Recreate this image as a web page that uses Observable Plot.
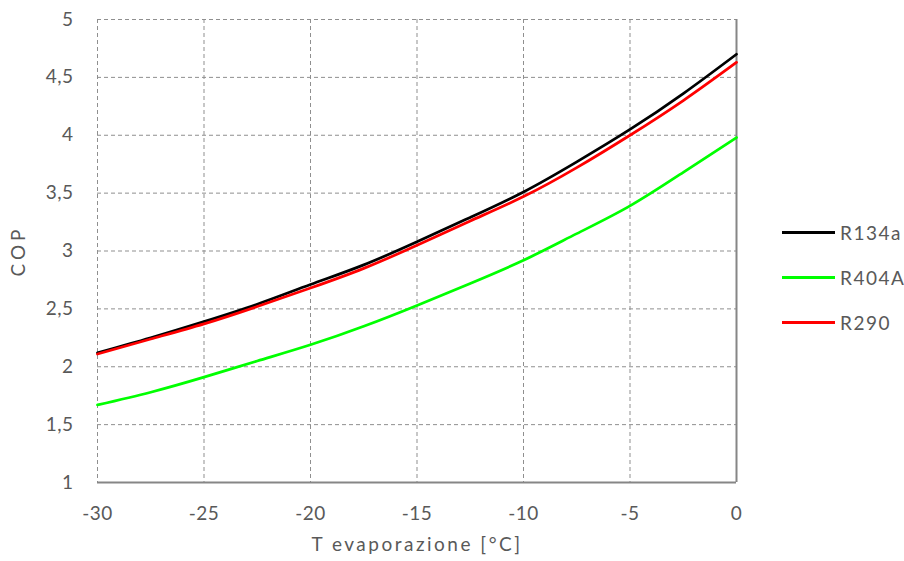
<!DOCTYPE html>
<html>
<head>
<meta charset="utf-8">
<script src="https://cdn.jsdelivr.net/npm/d3@7"></script>
<script src="https://cdn.jsdelivr.net/npm/@observablehq/plot@0.6"></script>
<style>
  html, body { margin: 0; padding: 0; background: #fff; }
  #wrap { position: relative; width: 904px; height: 561px; font-family: Lato, "Open Sans", sans-serif; }
  #legend { position: absolute; left: 782px; top: 210px; }
  .item { display: flex; align-items: center; height: 45px; }
  .swatch { width: 53px; height: 2.75px; margin-right: 5px; }
  .lbl { font-size: 19px; color: #595959; line-height: 1; letter-spacing: 1.5px; }
  svg [aria-label="x-axis label"] { letter-spacing: 2.5px; }
  svg [aria-label="y-axis label"] { letter-spacing: 4px; }
  svg [aria-label="x-axis tick label"], svg [aria-label="y-axis tick label"] { letter-spacing: 0.5px; }
</style>
</head>
<body>
<div id="wrap"><div id="legend"></div></div>
<script>
// Data
const temps = [-30, -27.5, -25, -22.5, -20, -17.5, -15, -12.5, -10, -7.5, -5, -2.5, 0];
const r134a = [2.12, 2.25, 2.39, 2.54, 2.71, 2.88, 3.08, 3.29, 3.51, 3.77, 4.05, 4.36, 4.70];
const r404a = [1.67, 1.78, 1.91, 2.05, 2.19, 2.35, 2.53, 2.72, 2.92, 3.15, 3.39, 3.68, 3.98];
const r290  = [2.11, 2.24, 2.37, 2.52, 2.68, 2.85, 3.05, 3.26, 3.47, 3.72, 4.00, 4.30, 4.63];
const seriesNames = ["R134a", "R404A", "R290"];
const seriesColors = ["#000000", "#00ff00", "#ff0000"];
const xTicks = [-30, -25, -20, -15, -10, -5, 0];
const yTicks = [1, 1.5, 2, 2.5, 3, 3.5, 4, 4.5, 5];

const seriesValues = [r134a, r404a, r290];
const rows = [];
seriesNames.forEach((name, i) => {
  temps.forEach((t, j) => rows.push({series: name, t, cop: seriesValues[i][j]}));
});

const gridStyle = {stroke: "#8f8f8f", strokeOpacity: 1, strokeWidth: 1, strokeDasharray: "4,3"};
const axisLine = {stroke: "#868686", strokeWidth: 2};

const chart = Plot.plot({
  width: 904,
  height: 561,
  marginLeft: 97,
  marginRight: 168,
  marginTop: 19,
  marginBottom: 79,
  style: {fontFamily: "Lato, 'Open Sans', sans-serif", fontSize: "19px", color: "#595959", background: "#fff", overflow: "visible"},
  x: {domain: [-30, 0]},
  y: {domain: [1, 5]},
  color: {domain: seriesNames, range: seriesColors},
  marks: [
    Plot.gridX(xTicks.filter(d => d !== 0), gridStyle),
    Plot.gridY(yTicks.filter(d => d !== 1), gridStyle),
    Plot.ruleY([1], axisLine),
    Plot.ruleX([0], axisLine),
    Plot.axisX(xTicks, {tickSize: 0, tickPadding: 24, tickFormat: d => String(d), label: "T evaporazione [°C]", labelAnchor: "center", labelArrow: "none", labelOffset: 68, fill: "#595959"}),
    Plot.axisY(yTicks, {tickSize: 0, tickPadding: 24, tickFormat: d => String(d).replace(".", ","), label: "COP", labelAnchor: "center", labelArrow: "none", labelOffset: 86, fill: "#595959"}),
    Plot.line(rows, {x: "t", y: "cop", z: "series", stroke: "series", strokeWidth: 2.75, curve: "natural"})
  ]
});
document.getElementById("wrap").prepend(chart);

const legend = document.getElementById("legend");
seriesNames.forEach((name, i) => {
  const item = document.createElement("div");
  item.className = "item";
  const sw = document.createElement("div");
  sw.className = "swatch";
  sw.style.background = seriesColors[i];
  const lb = document.createElement("span");
  lb.className = "lbl";
  lb.textContent = name;
  item.append(sw, lb);
  legend.append(item);
});
</script>
</body>
</html>
